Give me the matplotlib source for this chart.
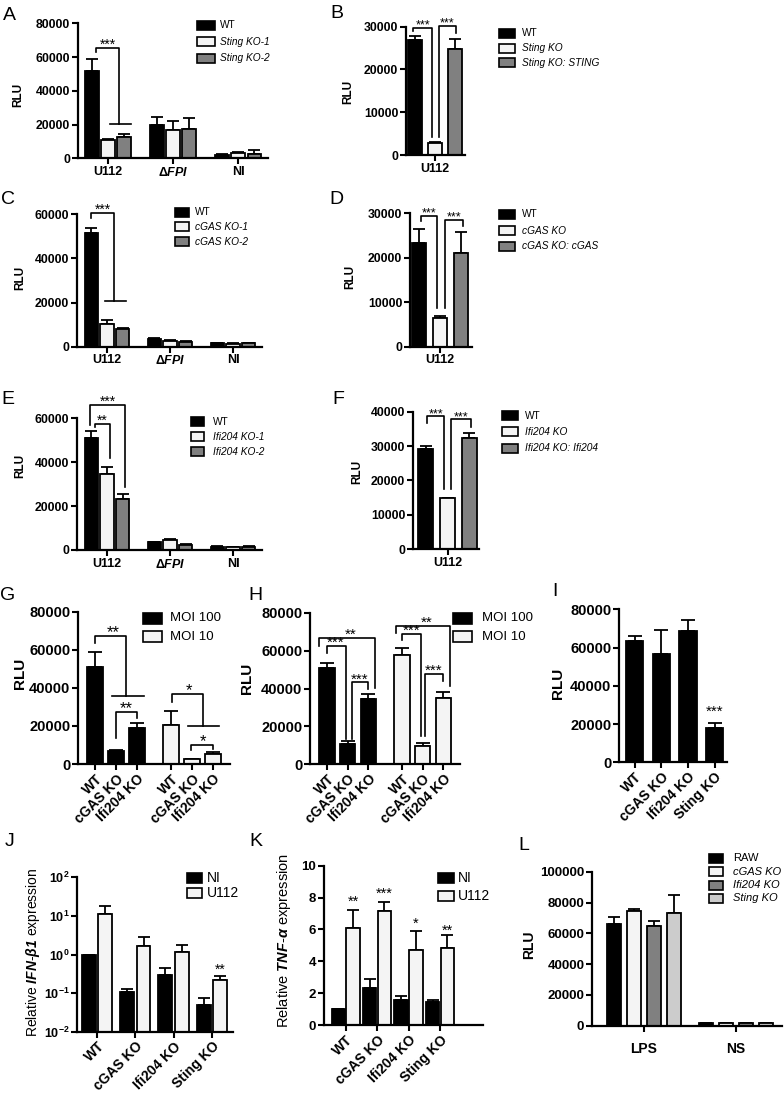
import matplotlib
matplotlib.use("Agg")
import matplotlib.pyplot as plt
import numpy as np
from matplotlib.patches import Rectangle
from matplotlib.ticker import NullLocator, FormatStrFormatter

plt.rcParams['font.family'] = ['Liberation Sans', 'DejaVu Sans']
plt.rcParams['font.weight'] = 'bold'
plt.rcParams['mathtext.fontset'] = 'custom'
plt.rcParams['mathtext.rm'] = 'Liberation Sans:bold'
plt.rcParams['mathtext.bf'] = 'Liberation Sans:bold'
plt.rcParams['mathtext.it'] = 'Liberation Sans:italic:bold'
plt.rcParams['mathtext.sf'] = 'Liberation Sans:italic'

# ---------------- data ----------------
# A
a_groups = ["U112", r"$\Delta\mathit{FPI}$", "NI"]
a_names = ["WT", "Sting KO-1", "Sting KO-2"]
a_vals = [[52000, 20000, 2200], [11000, 17000, 3000], [12500, 17500, 2800]]
a_errs = [[7000, 4500, 300], [500, 5200, 800], [2000, 6500, 2000]]
# B
b_names = ["WT", "Sting KO", "Sting KO: STING"]
b_vals = [26950, 2800, 24800]
b_errs = [900, 300, 2400]
# C
c_names = ["WT", "cGAS KO-1", "cGAS KO-2"]
c_vals = [[51500, 3500, 1500], [10500, 2700, 1300], [8000, 2300, 1500]]
c_errs = [[2500, 300, 200], [1800, 300, 200], [300, 300, 200]]
# D
d_names = ["WT", "cGAS KO", "cGAS KO: cGAS"]
d_vals = [23400, 6400, 21000]
d_errs = [3000, 500, 4700]
# E
e_names = ["WT", "Ifi204 KO-1", "Ifi204 KO-2"]
e_vals = [[51200, 3500, 1500], [34500, 4500, 1300], [23300, 2500, 1500]]
e_errs = [[2900, 300, 200], [3400, 400, 200], [2300, 300, 200]]
# F
f_names = ["WT", "Ifi204 KO", "Ifi204 KO: Ifi204"]
f_vals = [29000, 14750, 32400]
f_errs = [1000, 200, 1300]
# G / H
gh_labels = ["WT", "cGAS KO", "Ifi204 KO", "WT", "cGAS KO", "Ifi204 KO"]
moi_names = ["MOI 100", "MOI 10"]
g_moi100 = [51000, 6800, 19000]
g_moi100_err = [8000, 400, 2300]
g_moi10 = [20500, 2500, 5250]
g_moi10_err = [7500, 300, 1200]
h_moi100 = [50900, 10600, 34400]
h_moi100_err = [2600, 1800, 2900]
h_moi10 = [57900, 9700, 35000]
h_moi10_err = [3600, 1400, 3000]
# I
ijk_labels = ["WT", "cGAS KO", "Ifi204 KO", "Sting KO"]
i_vals = [63600, 56800, 68800, 17800]
i_errs = [2600, 12200, 5600, 2900]
# J (IFN-b1)
ni_u112 = ["NI", "U112"]
j_ni = [1.0, 0.105, 0.3, 0.05]
j_ni_err = [0.0, 0.025, 0.15, 0.025]
j_u112 = [11.0, 1.65, 1.15, 0.22]
j_u112_err = [7.0, 1.25, 0.6, 0.06]
# K (TNF-a)
k_ni = [1.0, 2.3, 1.55, 1.45]
k_ni_err = [0.0, 0.6, 0.25, 0.15]
k_u112 = [6.1, 7.15, 4.7, 4.85]
k_u112_err = [1.1, 0.55, 1.2, 0.8]
# L
l_groups = ["LPS", "NS"]
l_names = ["RAW", "cGAS KO", "Ifi204 KO", "Sting KO"]
l_vals = [[65800, 1500], [74500, 1600], [65000, 1700], [73400, 1600]]
l_errs = [[5000, 200], [1200, 200], [3200, 200], [11400, 200]]

# significance brackets (x in axis units, y in data units) and stars
a_br = [[(-0.18, 63000), (-0.18, 65500), (0.17, 65500), (0.17, 20500)], [(0.03, 20500), (0.35, 20500)]]
a_st = [(0.0, 65500, "***")]
b_br = [[(-1.1, 28900), (-1.1, 29770), (-0.15, 29770), (-0.15, 4220)],
        [(0.2, 4220), (0.2, 30230), (1.05, 30230), (1.05, 28600)]]
b_st = [(-0.6, 29770, "***"), (0.62, 30230, "***")]
c_br = [[(-0.25, 58500), (-0.25, 60800), (0.11, 60800), (0.11, 20700)], [(-0.03, 20700), (0.3, 20700)]]
c_st = [(-0.06, 60800, "***")]
d_br = [[(-0.9, 28300), (-0.9, 29470), (-0.14, 29470), (-0.14, 8650)],
        [(0.24, 8650), (0.24, 28570), (1.1, 28570), (1.1, 27070)]]
d_st = [(-0.52, 29470, "***"), (0.67, 28570, "***")]
e_br = [[(-0.19, 56000), (-0.19, 57600), (0.05, 57600), (0.05, 41700)],
        [(-0.27, 57000), (-0.27, 66200), (0.29, 66200), (0.29, 28800)]]
e_st = [(-0.07, 57600, "**"), (0.01, 66200, "***")]
f_br = [[(-0.94, 36600), (-0.94, 38700), (-0.16, 38700), (-0.16, 17400)],
        [(0.16, 17400), (0.16, 37750), (1.08, 37750), (1.08, 35600)]]
f_st = [(-0.55, 38700, "***"), (0.62, 37750, "***")]
g_br = [[(0.0, 63400), (0.0, 67200), (1.48, 67200), (1.48, 35900)], [(0.81, 35900), (2.33, 35900)],
        [(1.0, 13500), (1.0, 27100), (2.0, 27100), (2.0, 24300)],
        [(3.67, 32700), (3.67, 36800), (5.14, 36800), (5.14, 20100)], [(4.43, 20100), (5.9, 20100)],
        [(4.57, 7350), (4.57, 10000), (5.62, 10000), (5.62, 7900)]]
g_st = [(0.86, 67200, "**"), (1.5, 27100, "**"), (4.46, 36800, "*"), (5.13, 10000, "*")]
h_br = [[(-0.39, 62340), (-0.39, 66750), (2.32, 66750), (2.32, 40260)],
        [(0.0, 58800), (0.0, 62700), (0.92, 62700), (0.92, 13250)],
        [(1.2, 13250), (1.2, 43270), (1.98, 43270), (1.98, 39740)],
        [(3.33, 69400), (3.33, 73300), (5.94, 73300), (5.94, 41150)],
        [(3.62, 65870), (3.62, 69050), (4.54, 69050), (4.54, 14660)],
        [(4.73, 14660), (4.73, 47680), (5.6, 47680), (5.6, 43800)]]
h_st = [(1.16, 66750, "**"), (0.43, 62700, "***"), (1.6, 43270, "***"),
        (4.83, 73300, "**"), (4.08, 69050, "***"), (5.17, 47680, "***")]
i_st = [(3, 24900, "***")]
j_st = [(3.217, 0.33, "**")]
k_st = [(0.235, 7.53, "**"), (1.235, 8.06, "***"), (2.235, 6.18, "*"), (3.235, 5.76, "**")]

BLACK, WHITE, GRAY, LGRAY = "#000000", "#f4f4f4", "#808080", "#cccccc"

W, H = 784, 1097
fig = plt.figure(figsize=(W / 100, H / 100), dpi=100)


def rect(l, t, r, b):
    return [l / W, 1 - b / H, (r - l) / W, (b - t) / H]


def fxy(x, y):
    return (x / W, 1 - y / H)


def make_ax(l, t, r, b, xlim, ylim, yticks, fs, log=False):
    ax = fig.add_axes(rect(l, t, r, b))
    if log:
        ax.set_yscale('log')
    ax.set_xlim(xlim)
    ax.set_ylim(ylim)
    ax.set_yticks(yticks)
    if not log:
        ax.yaxis.set_major_formatter(FormatStrFormatter('%d'))
    ax.yaxis.set_minor_locator(NullLocator())
    for s in ['top', 'right']:
        ax.spines[s].set_visible(False)
    for s in ['left', 'bottom']:
        ax.spines[s].set_linewidth(1.6)
    ax.tick_params(width=1.5, length=4, labelsize=fs, pad=1.5)
    ax.patch.set_alpha(0)
    return ax


def bars(ax, xs, v, e, color, width, bottom=0, cap=4):
    xs = np.asarray(xs, dtype=float)
    v = np.asarray(v, dtype=float)
    ax.errorbar(xs, v, yerr=[np.zeros(len(v)), e], fmt='none', ecolor='black',
                elinewidth=1.3, capsize=cap, capthick=1.3, zorder=1)
    ax.bar(xs, v - bottom, width, bottom=bottom, color=color, edgecolor='black',
           linewidth=1.3, zorder=2)


def brackets(ax, lines, stars, fs):
    for pts in lines:
        ax.plot([p[0] for p in pts], [p[1] for p in pts], color='black', lw=1.2,
                clip_on=False, zorder=3)
    for x, y, s in stars:
        ax.annotate(s, (x, y), xytext=(0, -3), textcoords='offset points', ha='center',
                    va='bottom', fontsize=fs, weight='normal', annotation_clip=False)


def legend(x0, w, h, tx, rows, labels, colors, fs, italic):
    for y, lab, c, it in zip(rows, labels, colors, italic):
        fig.add_artist(Rectangle(fxy(x0, y + h / 2), w / W, h / H, transform=fig.transFigure,
                                 facecolor=c, edgecolor='black', lw=1.2))
        fig.text(tx / W, 1 - y / H, lab, fontsize=fs, style='italic' if it else 'normal',
                 weight='normal', va='center', ha='left')


def letter(x, y, s):
    fig.text(x / W, 1 - y / H, s, fontsize=14, weight='normal', ha='center', va='center')


def ylab(x, y, s, fs, weight='bold'):
    fig.text(x / W, 1 - y / H, s, fontsize=fs, weight=weight, rotation=90, ha='center', va='center')


cols3 = [BLACK, WHITE, GRAY]
g3 = np.arange(3)
off3 = [-0.25, 0.0, 0.25]

# ---- A ----
ax = make_ax(78, 23.3, 268, 158.3, (-0.462, 2.46), (0, 80000), np.arange(0, 80001, 20000), 8.8)
for k in range(3):
    bars(ax, g3 + off3[k], a_vals[k], a_errs[k], cols3[k], 0.21)
ax.set_xticks(g3, a_groups, fontsize=9)
brackets(ax, a_br, a_st, 10)
legend(197, 18, 9, 220, [25, 41.7, 58.3], a_names, cols3, 7.3, [False, True, True])
ylab(18, 95, "RLU", 8.5)
letter(9, 15, "A")

# ---- B ----
ax = make_ax(406, 26.7, 465, 155, (-1.45, 1.5), (0, 30000), np.arange(0, 30001, 10000), 8.8)
for k in range(3):
    bars(ax, [k - 1], [b_vals[k]], [b_errs[k]], cols3[k], 0.7)
ax.set_xticks([0], ["U112"], fontsize=9)
brackets(ax, b_br, b_st, 9)
legend(499, 16, 9, 522, [33.3, 48.3, 62.7], b_names, cols3, 7.3, [False, True, True])
ylab(348, 92, "RLU", 8.5)
letter(337, 13, "B")

# ---- C ----
ax = make_ax(77, 214.3, 262, 346.7, (-0.476, 2.46), (0, 60000), np.arange(0, 60001, 20000), 8.8)
for k in range(3):
    bars(ax, g3 + off3[k], c_vals[k], c_errs[k], cols3[k], 0.21)
ax.set_xticks(g3, a_groups, fontsize=9)
brackets(ax, c_br, c_st, 10)
legend(175, 14, 9, 195, [212.3, 226.7, 241.7], c_names, cols3, 7.3, [False, True, True])
ylab(20, 278, "RLU", 8.5)
letter(8, 200, "C")

# ---- D ----
ax = make_ax(410, 213.3, 472, 346.7, (-1.43, 1.52), (0, 30000), np.arange(0, 30001, 10000), 8.8)
for k in range(3):
    bars(ax, [k - 1], [d_vals[k]], [d_errs[k]], cols3[k], 0.7)
ax.set_xticks([0], ["U112"], fontsize=9)
brackets(ax, d_br, d_st, 9)
legend(499, 16, 9, 522, [214.3, 230.7, 246], d_names, cols3, 7.3, [False, True, True])
ylab(350, 277, "RLU", 8.5)
letter(336, 200, "D")

# ---- E ----
ax = make_ax(77, 418.3, 262, 550, (-0.476, 2.46), (0, 60000), np.arange(0, 60001, 20000), 8.8)
for k in range(3):
    bars(ax, g3 + off3[k], e_vals[k], e_errs[k], cols3[k], 0.21)
ax.set_xticks(g3, a_groups, fontsize=9)
brackets(ax, e_br, e_st, 10)
legend(191, 13, 9, 213, [421.7, 436.7, 451.7], e_names, cols3, 7.3, [False, True, True])
ylab(20, 466, "RLU", 8.5)
letter(8, 400, "E")

# ---- F ----
ax = make_ax(413, 411.7, 479, 549, (-1.59, 1.45), (0, 40000), np.arange(0, 40001, 10000), 8.8)
for k in range(3):
    bars(ax, [k - 1], [f_vals[k]], [f_errs[k]], cols3[k], 0.7)
ax.set_xticks([0], ["U112"], fontsize=9)
brackets(ax, f_br, f_st, 9)
legend(502, 16, 9, 525, [416, 431.7, 448.3], f_names, cols3, 7.3, [False, True, True])
ylab(357, 472, "RLU", 8.5)
letter(338, 400, "F")

# ---- G / H ----
pos6 = np.array([0, 1, 2, 3.63, 4.63, 5.63])
for (l, t, r, b, xl, v100, e100, v10, e10, br, st, lx, tx, rl, let, sfs) in [
        (78, 611.7, 230, 764, (-0.81, 6.43), g_moi100, g_moi100_err, g_moi10, g_moi10_err,
         g_br, g_st, 143, 170, (20, 673), (8, 596, "G"), 12),
        (310, 613, 460, 764, (-0.82, 6.43), h_moi100, h_moi100_err, h_moi10, h_moi10_err,
         h_br, h_st, 453, 482, (247, 678), (255, 596, "H"), 11)]:
    ax = make_ax(l, t, r, b, xl, (0, 80000), np.arange(0, 80001, 20000), 10.5)
    bars(ax, pos6[:3], v100, e100, BLACK, 0.74, cap=5)
    bars(ax, pos6[3:], v10, e10, WHITE, 0.74, cap=5)
    ax.set_xticks(pos6)
    ax.set_xticklabels(gh_labels, rotation=45, ha='right', rotation_mode='anchor', fontsize=10)
    brackets(ax, br, st, sfs)
    legend(lx, 19, 10.5, tx, [618.3, 636.7], moi_names, [BLACK, WHITE], 9.5, [False, False])
    ylab(rl[0], rl[1], "RLU", 11)
    letter(*let)

# ---- I ----
ax = make_ax(619, 609.3, 727, 762.3, (-0.58, 3.46), (0, 80000), np.arange(0, 80001, 20000), 10.5)
bars(ax, np.arange(4), i_vals, i_errs, BLACK, 0.64, cap=5)
ax.set_xticks(np.arange(4))
ax.set_xticklabels(ijk_labels, rotation=45, ha='right', rotation_mode='anchor', fontsize=10)
brackets(ax, [], i_st, 11)
ylab(558, 683, "RLU", 11)
letter(555, 592, "I")

# ---- J ----
g4 = np.arange(4)
ax = make_ax(77, 877.3, 233, 1031.7, (-0.52, 3.55), (1e-2, 1e2), [1e-2, 1e-1, 1, 10, 100], 9, log=True)
ax.set_yticklabels([r'$\mathbf{10^{-2}}$', r'$\mathbf{10^{-1}}$', r'$\mathbf{10^{0}}$',
                    r'$\mathbf{10^{1}}$', r'$\mathbf{10^{2}}$'])
bars(ax, g4 - 0.217, j_ni, j_ni_err, BLACK, 0.36, bottom=1e-2)
bars(ax, g4 + 0.217, j_u112, j_u112_err, WHITE, 0.36, bottom=1e-2)
ax.set_xticks(g4)
ax.set_xticklabels(ijk_labels, rotation=45, ha='right', rotation_mode='anchor', fontsize=10)
brackets(ax, [], j_st, 10)
legend(187, 15, 10, 207, [878.3, 893.3], ni_u112, [BLACK, WHITE], 10, [False, False])
ylab(33, 952, r"Relative $\mathsf{IFN}$-$\mathsf{\beta1}$ expression", 10, weight='normal')
letter(10, 842, "J")

# ---- K ----
ax = make_ax(324, 865.7, 483, 1025, (-0.69, 4.37), (0, 10), np.arange(0, 11, 2), 9.5)
bars(ax, g4 - 0.235, k_ni, k_ni_err, BLACK, 0.43)
bars(ax, g4 + 0.235, k_u112, k_u112_err, WHITE, 0.43)
ax.set_xticks(g4)
ax.set_xticklabels(ijk_labels, rotation=45, ha='right', rotation_mode='anchor', fontsize=10)
brackets(ax, [], k_st, 10.5)
legend(438, 16, 10, 458, [878.3, 896], ni_u112, [BLACK, WHITE], 10, [False, False])
ylab(284, 940, r"Relative $\mathsf{TNF}$-$\mathsf{\alpha}$ expression", 10.5, weight='normal')
letter(256, 842, "K")

# ---- L ----
lg = np.array([0, 4.6])
off4 = [-1.5, -0.5, 0.5, 1.5]
cols4 = [BLACK, WHITE, GRAY, LGRAY]
ax = make_ax(592, 871.7, 782, 1025.7, (-2.6, 6.9), (0, 100000), np.arange(0, 100001, 20000), 9.5)
for k in range(4):
    bars(ax, lg + off4[k], l_vals[k], l_errs[k], cols4[k], 0.72)
ax.set_xticks(lg, l_groups, fontsize=10)
ax.tick_params(axis='x', pad=8)
legend(709, 14, 9, 733, [858.3, 871.7, 885, 898.3], l_names, cols4, 8, [False, True, True, True])
ylab(529, 945, "RLU", 10)
letter(524, 846, "L")

fig.savefig("out.png", dpi=100)
